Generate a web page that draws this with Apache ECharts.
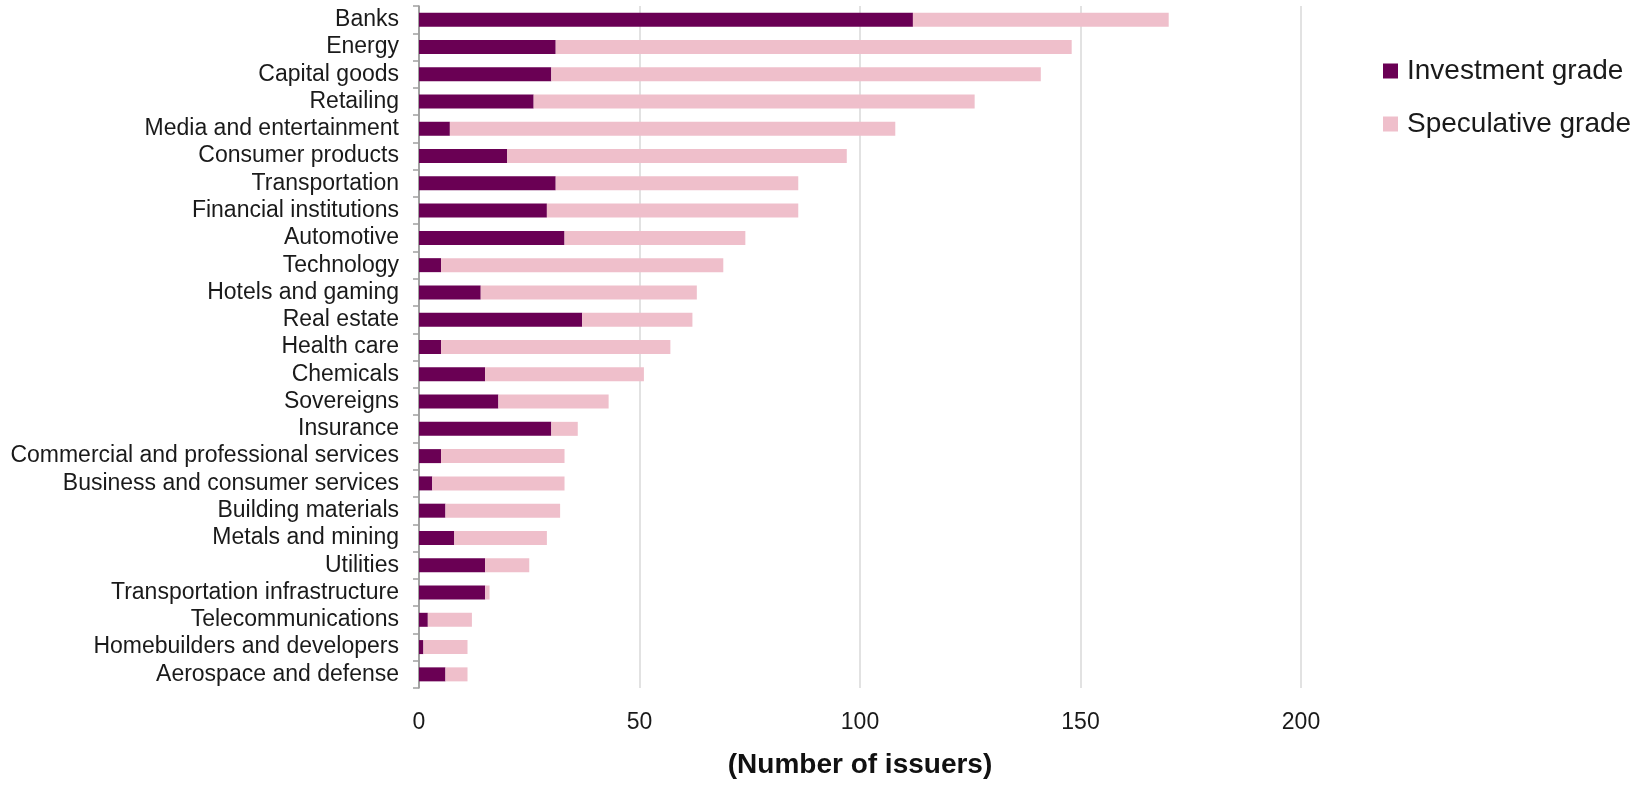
<!DOCTYPE html>
<html>
<head>
<meta charset="utf-8">
<title>Issuers by sector and rating category</title>
<script src="https://cdn.jsdelivr.net/npm/echarts@6/dist/echarts.min.js"></script>
<style>
  html, body { margin: 0; padding: 0; background: #ffffff; }
  #chart { width: 1639px; height: 785px; }
</style>
</head>
<body>
<div id="chart"></div>
<script>
// Sectors, listed from largest to smallest issuer count
const sectors = [
  "Banks", "Energy", "Capital goods", "Retailing", "Media and entertainment",
  "Consumer products", "Transportation", "Financial institutions", "Automotive",
  "Technology", "Hotels and gaming", "Real estate", "Health care", "Chemicals",
  "Sovereigns", "Insurance", "Commercial and professional services",
  "Business and consumer services", "Building materials", "Metals and mining",
  "Utilities", "Transportation infrastructure", "Telecommunications",
  "Homebuilders and developers", "Aerospace and defense"
];

// Number of investment-grade issuers per sector
const investmentGrade = [
  112, 31, 30, 26, 7, 20, 31, 29, 33, 5, 14, 37, 5, 15, 18, 30, 5, 3, 6, 8, 15, 15, 2, 1, 6
];

// Number of speculative-grade issuers per sector
const speculativeGrade = [
  58, 117, 111, 100, 101, 77, 55, 57, 41, 64, 49, 25, 52, 36, 25, 6, 28, 30, 26, 21, 10, 1, 10, 10, 5
];

// Value axis ticks
const xTicks = [0, 50, 100, 150, 200];

const seriesNames = ["Investment grade", "Speculative grade"];
const colors = ["#6a0054", "#efbfcb"];
const fontFamily = "'Liberation Sans', Arial, sans-serif";

const chart = echarts.init(document.getElementById("chart"), null, { renderer: "canvas" });

chart.setOption({
  animation: false,
  backgroundColor: "#ffffff",
  color: colors,
  textStyle: { fontFamily: fontFamily, color: "#1a1a1a" },
  grid: { left: 419, right: 338, top: 6, bottom: 97, containLabel: false },
  legend: {
    orient: "vertical",
    left: 1383,
    top: 55,
    padding: 0,
    itemWidth: 15,
    itemHeight: 15,
    itemGap: 21,
    icon: "rect",
    data: seriesNames,
    textStyle: { fontSize: 28, lineHeight: 32, color: "#1a1a1a", fontFamily: fontFamily, padding: [0, 0, 0, 4] }
  },
  xAxis: {
    type: "value",
    min: xTicks[0],
    max: xTicks[xTicks.length - 1],
    interval: xTicks[1] - xTicks[0],
    name: "(Number of issuers)",
    nameLocation: "middle",
    nameGap: 63,
    nameTextStyle: { fontSize: 28, fontWeight: "bold", color: "#111111", fontFamily: fontFamily },
    axisLine: { show: false },
    axisTick: { show: false },
    axisLabel: { fontSize: 23, color: "#1a1a1a", margin: 23, fontFamily: fontFamily },
    splitLine: { show: true, lineStyle: { color: "#e2e2e2", width: 2 } }
  },
  yAxis: {
    type: "category",
    data: sectors,
    inverse: true,
    axisLine: { show: true, lineStyle: { color: "#8c8c8c", width: 1.5 } },
    axisTick: { show: true, length: 6, lineStyle: { color: "#a0a0a0", width: 1.5 } },
    axisLabel: { interval: 0, fontSize: 23, color: "#1a1a1a", margin: 20, fontFamily: fontFamily },
    splitLine: { show: false }
  },
  series: [
    {
      name: seriesNames[0],
      type: "bar",
      stack: "issuers",
      barWidth: 14,
      data: investmentGrade,
      itemStyle: { color: colors[0] }
    },
    {
      name: seriesNames[1],
      type: "bar",
      stack: "issuers",
      barWidth: 14,
      data: speculativeGrade,
      itemStyle: { color: colors[1] }
    }
  ]
});
</script>
</body>
</html>
